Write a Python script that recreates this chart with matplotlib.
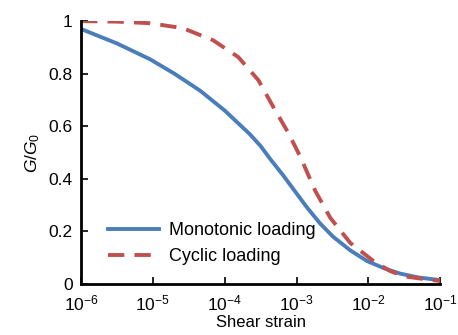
import matplotlib
matplotlib.use('Agg')
import matplotlib.pyplot as plt
import numpy as np

# values (log10 of shear strain, G/G0)
mono_logx = [-6.0, -5.5, -5.04, -4.7, -4.34, -4.0, -3.65, -3.5, -3.37, -3.19, -3.0, -2.85, -2.67, -2.49, -2.25, -2.02, -1.78, -1.56, -1.3, -1.0]
mono_g = [0.97, 0.915, 0.855, 0.8, 0.735, 0.66, 0.57, 0.525, 0.477, 0.415, 0.345, 0.29, 0.23, 0.18, 0.128, 0.088, 0.06, 0.04, 0.025, 0.015]

cyc_logx = [-6.0, -5.5, -5.04, -4.58, -4.16, -3.81, -3.53, -3.32, -3.11, -2.94, -2.74, -2.53, -2.25, -1.93, -1.7, -1.51, -1.25, -1.0]
cyc_g = [1.0, 0.998, 0.992, 0.973, 0.927, 0.863, 0.775, 0.672, 0.573, 0.48, 0.355, 0.252, 0.156, 0.088, 0.05, 0.03, 0.02, 0.012]

plt.rcParams['font.family'] = 'Liberation Sans'
plt.rcParams['mathtext.fontset'] = 'custom'
plt.rcParams['mathtext.rm'] = 'Liberation Sans'
plt.rcParams['mathtext.it'] = 'Liberation Sans:italic'

fig = plt.figure(figsize=(4.58, 3.35), dpi=100)
ax = fig.add_axes([0.177, 0.152, 0.784, 0.785])

ax.plot(10 ** np.array(mono_logx), mono_g, color='#4a7ebb', lw=2.8, label='Monotonic loading')
ax.plot(10 ** np.array(cyc_logx), cyc_g, color='#c0504d', lw=2.8, ls=(0, (4.2, 2.6)), label='Cyclic loading')

ax.set_xscale('log')
ax.set_xlim(1e-6, 1e-1)
ax.set_ylim(0, 1)
ax.set_yticks([0, 0.2, 0.4, 0.6, 0.8, 1])
ax.set_yticklabels(['0', '0.2', '0.4', '0.6', '0.8', '1'])
ax.minorticks_off()
ax.tick_params(direction='in', length=5, width=1.2, labelsize=12.5)
ax.tick_params(axis='x', pad=7)
ax.tick_params(axis='y', pad=6)

for s in ['top', 'right']:
    ax.spines[s].set_visible(False)
for s in ['left', 'bottom']:
    ax.spines[s].set_linewidth(2)

ax.set_xlabel('Shear strain', fontsize=12, labelpad=1)
ax.set_ylabel(r'$G/G_\mathrm{0}$', fontsize=12.5, labelpad=5)

ax.legend(loc='lower left', bbox_to_anchor=(0.03, 0.01), frameon=False,
          fontsize=13, handlelength=2.8, handletextpad=0.6, labelspacing=0.5)

fig.savefig('out.png', dpi=100)
